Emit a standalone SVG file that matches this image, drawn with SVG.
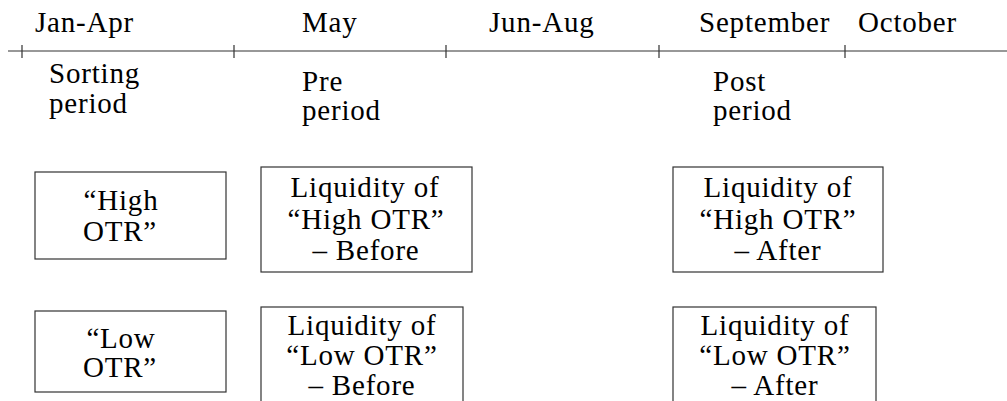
<svg xmlns="http://www.w3.org/2000/svg" width="1007" height="401" viewBox="0 0 1007 401">
<style>
text{font-family:'Liberation Serif','Times New Roman',serif;font-size:29px;fill:#000;letter-spacing:0.8px}
.c{text-anchor:middle}
.box{fill:#fff;stroke:#333;stroke-width:1.2}
.axis{stroke:#333;stroke-width:1.2;fill:none}
</style>
<rect width="1007" height="401" fill="#fff"/>
<g id="connectors">
<path class="axis" d="M8 51H1007M22 45V58M234 45V58M446 45V58M659 45V58M845 45V58"/>
</g>
<g id="months">
<text x="35" y="32">Jan-Apr</text>
<text x="302" y="32">May</text>
<text x="489" y="32">Jun-Aug</text>
<text x="699" y="32">September</text>
<text x="858" y="32">October</text>
</g>
<g id="periods">
<text x="49" y="83">Sorting<tspan x="49" y="113">period</tspan></text>
<text x="302" y="91">Pre<tspan x="302" y="120">period</tspan></text>
<text x="713" y="91">Post<tspan x="713" y="120">period</tspan></text>
</g>
<g id="high-otr">
<rect class="box" x="35" y="172" width="191" height="87"/>
<text class="c" x="121" y="210">“High<tspan x="120" y="241">OTR”</tspan></text>
</g>
<g id="low-otr">
<rect class="box" x="35" y="311" width="191" height="81"/>
<text class="c" x="121" y="348">“Low<tspan x="120" y="377">OTR”</tspan></text>
</g>
<g id="high-before">
<rect class="box" x="261" y="167" width="211" height="105"/>
<text class="c" x="365" y="197">Liquidity of<tspan x="366" y="229">“High OTR”</tspan><tspan x="366" y="260">– Before</tspan></text>
</g>
<g id="low-before">
<rect class="box" x="261" y="307" width="202" height="110"/>
<text class="c" x="362" y="335">Liquidity of<tspan x="362" y="365">“Low OTR”</tspan><tspan x="362" y="395">– Before</tspan></text>
</g>
<g id="high-after">
<rect class="box" x="673" y="167" width="210" height="105"/>
<text class="c" x="778" y="197">Liquidity of<tspan x="778" y="229">“High OTR”</tspan><tspan x="778" y="260">– After</tspan></text>
</g>
<g id="low-after">
<rect class="box" x="673" y="307" width="203" height="110"/>
<text class="c" x="775" y="335">Liquidity of<tspan x="775" y="365">“Low OTR”</tspan><tspan x="775" y="395">– After</tspan></text>
</g>
</svg>
